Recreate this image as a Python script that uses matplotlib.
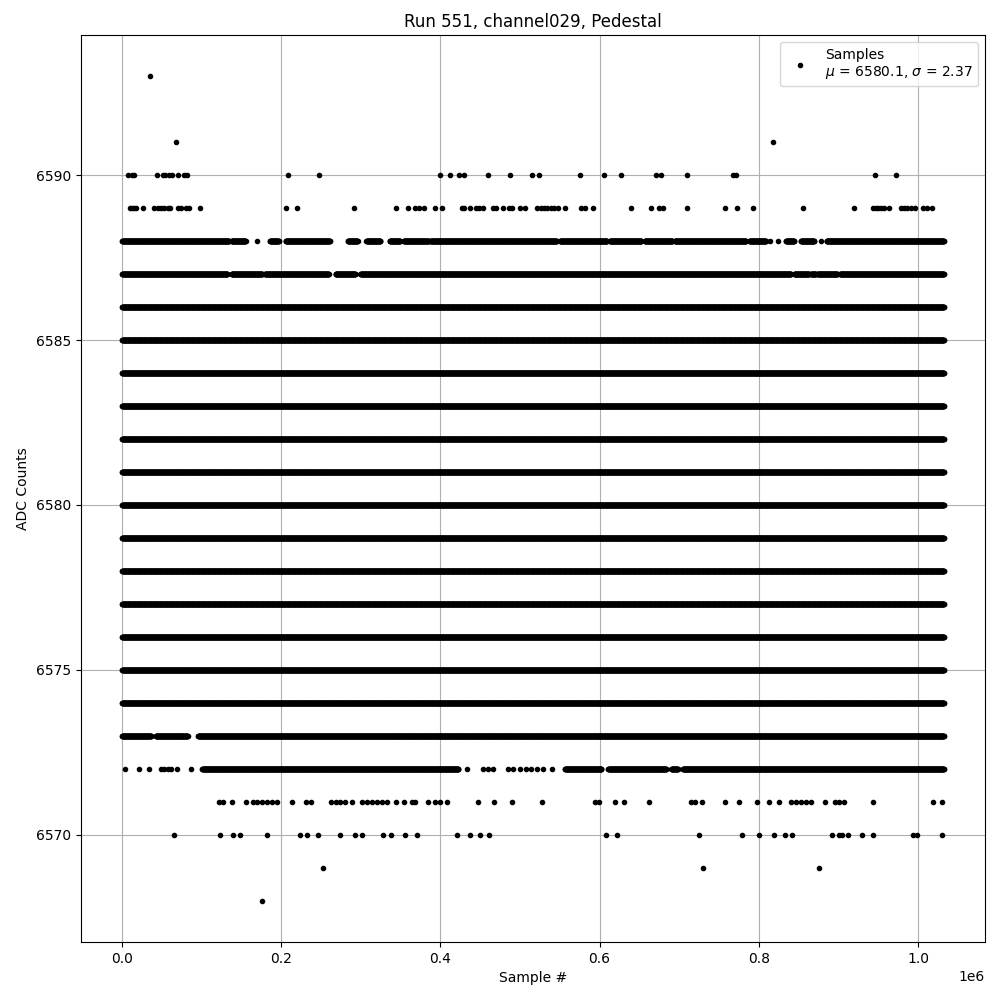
import numpy as np
import matplotlib
matplotlib.use("Agg")
import matplotlib.pyplot as plt

# ---------------- data (sample positions in units of 1e6 samples) ----------------
n_samples = 1.0326e6          # last sample index
dense_step = 300              # draw every 300th sample inside dense runs

# ADC levels present over the whole run
full_levels = [6574, 6575, 6576, 6577, 6578, 6579, 6580, 6581, 6582, 6583, 6584, 6585, 6586]

# levels present in runs of samples (start, end) in 1e6 samples
runs_6587 = [(0.0, 0.1325), (0.1375, 0.1763), (0.1792, 0.2598), (0.2682, 0.2932),
             (0.2995, 0.8405), (0.8446, 0.8634), (0.8655, 0.8718), (0.8738, 0.8989),
             (0.9019, 1.0326)]
runs_6588 = [(0.0, 0.1345), (0.1375, 0.1554), (0.1858, 0.1971), (0.2055, 0.2610),
             (0.2836, 0.2961), (0.3070, 0.3246), (0.3362, 0.3496), (0.3538, 0.3851),
             (0.3872, 0.5460), (0.5501, 0.6094), (0.6128, 0.6525), (0.6566, 0.6914),
             (0.6942, 0.7841), (0.7882, 0.8091), (0.8342, 0.8446), (0.8530, 0.8697),
             (0.8851, 1.0326)]
runs_6573 = [(0.0, 0.0363), (0.0426, 0.0823), (0.0956, 1.0326)]
runs_6572 = [(0.1007, 0.4227), (0.5564, 0.6024), (0.6107, 0.6838), (0.6901, 0.6984),
             (0.7046, 1.0326)]

# isolated samples
pts_6593 = [0.0355]
pts_6591 = [0.068, 0.8175]
pts_6590 = [0.0071, 0.0122, 0.0154, 0.0439, 0.0510, 0.0539, 0.0593, 0.0627, 0.0706,
            0.0773, 0.0815, 0.2084, 0.2472, 0.3989, 0.4123, 0.4227, 0.4302, 0.4599,
            0.4878, 0.5154, 0.5242, 0.5756, 0.6056, 0.6270, 0.6713, 0.6771, 0.7097,
            0.7673, 0.7716, 0.9458, 0.9729]
pts_6589 = [0.0104, 0.0129, 0.0154, 0.0179, 0.0267, 0.0397, 0.0447, 0.0489, 0.0530,
            0.0573, 0.0605, 0.0698, 0.0739, 0.0802, 0.0843, 0.0981, 0.2064, 0.2202,
            0.2911, 0.3437, 0.3588, 0.3684, 0.3726, 0.3788, 0.3935, 0.4019, 0.4269,
            0.4298, 0.4373, 0.4449, 0.4490, 0.4533, 0.4658, 0.4699, 0.4783, 0.4866,
            0.4896, 0.4995, 0.5063, 0.5217, 0.5259, 0.5301, 0.5342, 0.5385, 0.5426,
            0.5480, 0.5564, 0.5764, 0.5815, 0.5911, 0.6391, 0.6650, 0.6746, 0.6796,
            0.7097, 0.7578, 0.7728, 0.7924, 0.8550, 0.9198, 0.9436, 0.9470, 0.9503,
            0.9536, 0.9574, 0.9637, 0.9783, 0.9825, 0.9866, 0.9909, 0.9962, 1.0063,
            1.0117, 1.0172]
pts_6588 = [0.1700, 0.8142, 0.8237, 0.8780]
pts_6572 = [0.0038, 0.0217, 0.0342, 0.0489, 0.0530, 0.0573, 0.0614, 0.0685, 0.0865,
            0.4332, 0.4533, 0.4595, 0.4658, 0.4853, 0.4916, 0.5000, 0.5070, 0.5140,
            0.5210, 0.5292, 0.5397]
pts_6571 = [0.1219, 0.1262, 0.1387, 0.1554, 0.1650, 0.1700, 0.1763, 0.1826, 0.1888,
            0.1942, 0.2139, 0.2306, 0.2368, 0.2619, 0.2682, 0.2744, 0.2807, 0.2891,
            0.3016, 0.3079, 0.3142, 0.3204, 0.3267, 0.3330, 0.3442, 0.3538, 0.3643,
            0.3684, 0.3838, 0.3935, 0.3997, 0.4081, 0.4478, 0.4678, 0.4896, 0.5272,
            0.5940, 0.5994, 0.6199, 0.6307, 0.6620, 0.7152, 0.7193, 0.7285, 0.7573,
            0.7748, 0.7974, 0.8124, 0.8258, 0.8405, 0.8467, 0.8530, 0.8593, 0.8655,
            0.8826, 0.8960, 0.9010, 0.9073, 0.9436, 1.0192, 1.0297]
pts_6570 = [0.0655, 0.1232, 0.1395, 0.1482, 0.1826, 0.2234, 0.2327, 0.2460, 0.2744,
            0.2932, 0.3016, 0.3279, 0.3383, 0.3559, 0.3705, 0.4207, 0.4373, 0.4499,
            0.4615, 0.6078, 0.6219, 0.7243, 0.7786, 0.7999, 0.8187, 0.8333, 0.8417,
            0.8914, 0.9010, 0.9044, 0.9127, 0.9302, 0.9440, 0.9941, 0.9991, 1.0297]
pts_6569 = [0.2523, 0.7297, 0.8751]
pts_6568 = [0.1759]

mean_adc = 6580.1
sigma_adc = 2.37

# ---------------- assemble samples ----------------
xs, ys = [], []

def add_run(level, a, b):
    idx = np.arange(a * 1e6, b * 1e6 + 1, dense_step)
    xs.append(idx)
    ys.append(np.full(idx.size, level))

def add_pts(level, pts):
    arr = np.asarray(pts) * 1e6
    xs.append(arr)
    ys.append(np.full(arr.size, level))

for lv in full_levels:
    add_run(lv, 0.0, n_samples / 1e6)
for lv, runs in [(6587, runs_6587), (6588, runs_6588), (6573, runs_6573), (6572, runs_6572)]:
    for a, b in runs:
        add_run(lv, a, b)
for lv, pts in [(6593, pts_6593), (6591, pts_6591), (6590, pts_6590), (6589, pts_6589),
                (6588, pts_6588), (6572, pts_6572), (6571, pts_6571), (6570, pts_6570),
                (6569, pts_6569), (6568, pts_6568)]:
    add_pts(lv, pts)

x = np.concatenate(xs)
y = np.concatenate(ys)

# ---------------- plot ----------------
fig, ax = plt.subplots(figsize=(10, 10), dpi=100)
ax.plot(x, y, 'k.', label="Samples\n$\\mu$ = %.1f, $\\sigma$ = %.2f" % (mean_adc, sigma_adc))
ax.set_title("Run 551, channel029, Pedestal")
ax.set_xlabel("Sample #")
ax.set_ylabel("ADC Counts")
ax.grid(True)
ax.legend(loc="upper right")
fig.subplots_adjust(left=0.081, right=0.985, top=0.965, bottom=0.058)
fig.savefig("out.png", dpi=100)
